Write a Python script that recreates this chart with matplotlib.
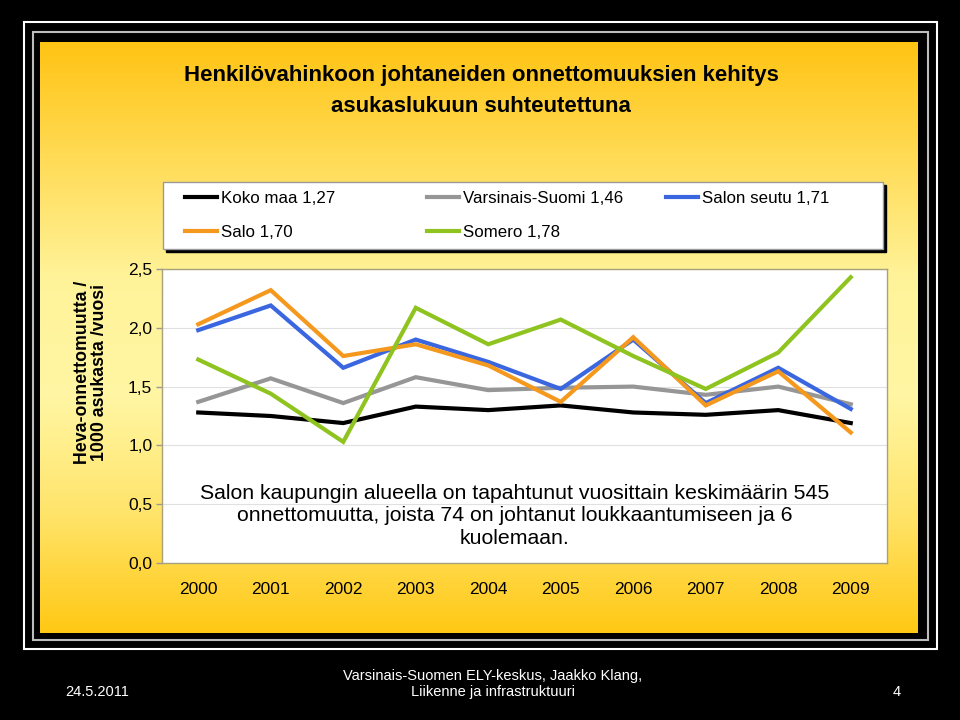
import numpy as np
import matplotlib
matplotlib.use("Agg")
import matplotlib.pyplot as plt
from matplotlib.patches import Rectangle
from matplotlib.colors import LinearSegmentedColormap

# Data
years = ["2000", "2001", "2002", "2003", "2004", "2005", "2006", "2007", "2008", "2009"]
koko_maa = [1.28, 1.25, 1.19, 1.33, 1.30, 1.34, 1.28, 1.26, 1.30, 1.19]
varsinais_suomi = [1.37, 1.57, 1.36, 1.58, 1.47, 1.49, 1.50, 1.43, 1.50, 1.35]
salon_seutu = [1.98, 2.19, 1.66, 1.90, 1.71, 1.48, 1.90, 1.36, 1.66, 1.31]
salo = [2.03, 2.32, 1.76, 1.86, 1.68, 1.37, 1.92, 1.34, 1.63, 1.11]
somero = [1.73, 1.44, 1.03, 2.17, 1.86, 2.07, 1.76, 1.48, 1.79, 2.43]

series = [
    ("Koko maa 1,27", koko_maa, "#000000"),
    ("Varsinais-Suomi 1,46", varsinais_suomi, "#969696"),
    ("Salon seutu 1,71", salon_seutu, "#3a66e0"),
    ("Salo 1,70", salo, "#f4981e"),
    ("Somero 1,78", somero, "#8fc31f"),
]

plt.rcParams["font.family"] = ["Liberation Sans", "DejaVu Sans"]

W, H = 960, 720
fig = plt.figure(figsize=(9.6, 7.2), dpi=100, facecolor="black")

# background / frames in pixel coordinates
bg = fig.add_axes([0, 0, 1, 1])
bg.add_patch(Rectangle((24, 22), 913, 627, fill=False, ec="white", lw=1.5))
bg.add_patch(Rectangle((33, 32), 895, 608, fill=False, ec="#bdbdbd", lw=1.5))
cmap = LinearSegmentedColormap.from_list(
    "pan", [(0, "#ffc414"), (0.4, "#fff39a"), (0.6, "#fff6a3"), (0.8, "#ffe46a"), (1, "#ffc814")])
grad = np.linspace(0, 1, 256).reshape(-1, 1)
bg.imshow(grad, extent=(40, 918, 633, 42), cmap=cmap, aspect="auto", origin="upper")
bg.set_xlim(0, W)
bg.set_ylim(H, 0)
bg.axis("off")

# legend box with shadow
bg.add_patch(Rectangle((166, 185), 720, 67, color="black"))
bg.add_patch(Rectangle((163, 182), 720, 67, fc="white", ec="#9a9a9a", lw=1))

# title
fig.text(481 / W, 1 - 76 / H, "Henkilövahinkoon johtaneiden onnettomuuksien kehitys",
         ha="center", va="center", fontsize=16, fontweight="bold")
fig.text(481 / W, 1 - 106 / H, "asukaslukuun suhteutettuna",
         ha="center", va="center", fontsize=16, fontweight="bold")

# main plot
ax = fig.add_axes([162 / W, 1 - 563 / H, 725 / W, 294 / H])
ax.set_facecolor("white")
x = np.arange(len(years))
lines = {}
for name, vals, col in series:
    lines[name], = ax.plot(x, vals, color=col, lw=3, solid_joinstyle="miter")
ax.set_xlim(-0.5, len(years) - 0.5)
ax.set_ylim(0, 2.5)
ax.set_yticks([0, 0.5, 1.0, 1.5, 2.0, 2.5])
ax.set_yticklabels(["0,0", "0,5", "1,0", "1,5", "2,0", "2,5"])
ax.set_xticks(x)
ax.set_xticklabels(years)
ax.tick_params(axis="x", length=0, pad=14, labelsize=12.5)
ax.tick_params(axis="y", length=4, width=1, color="#999999", pad=3, labelsize=12.5)
ax.grid(axis="y", color="#e0e0e0", lw=0.8)
ax.set_axisbelow(True)
for s in ax.spines.values():
    s.set_color("#a8a27a")
    s.set_linewidth(1)

ax.text(0.486, 0.16,
        "Salon kaupungin alueella on tapahtunut vuosittain keskimäärin 545\n"
        "onnettomuutta, joista 74 on johtanut loukkaantumiseen ja 6\n"
        "kuolemaan.",
        transform=ax.transAxes, ha="center", va="center", fontsize=15.3,
        linespacing=1.25, multialignment="center")

fig.text(91 / W, 1 - 372 / H, "Heva-onnettomuutta /\n1000 asukasta /vuosi",
         rotation=90, ha="center", va="center", fontsize=12.8, fontweight="bold",
         linespacing=1.0, multialignment="center")

# legend: three columns placed at fixed positions
cols = [
    (185, ["Koko maa 1,27", "Salo 1,70"]),
    (427, ["Varsinais-Suomi 1,46", "Somero 1,78"]),
    (666, ["Salon seutu 1,71"]),
]
for xpos, names in cols:
    fig.legend([lines[n] for n in names], names, loc="upper left",
               bbox_to_anchor=(xpos / W, 1 - 191 / H), frameon=False,
               borderpad=0, borderaxespad=0, handlelength=1.9, handletextpad=0.25,
               labelspacing=1.1, prop={"size": 12.2})

# footer
fig.text(97 / W, 1 - 692 / H, "24.5.2011", color="white", ha="center", va="center",
         fontsize=10.5)
fig.text(493 / W, 1 - 684 / H, "Varsinais-Suomen ELY-keskus, Jaakko Klang,\nLiikenne ja infrastruktuuri",
         color="white", ha="center", va="center", fontsize=10.5, linespacing=1.25)
fig.text(897 / W, 1 - 692 / H, "4", color="white", ha="center", va="center",
         fontsize=10.5)

fig.savefig("out.png", dpi=100, facecolor="black")
